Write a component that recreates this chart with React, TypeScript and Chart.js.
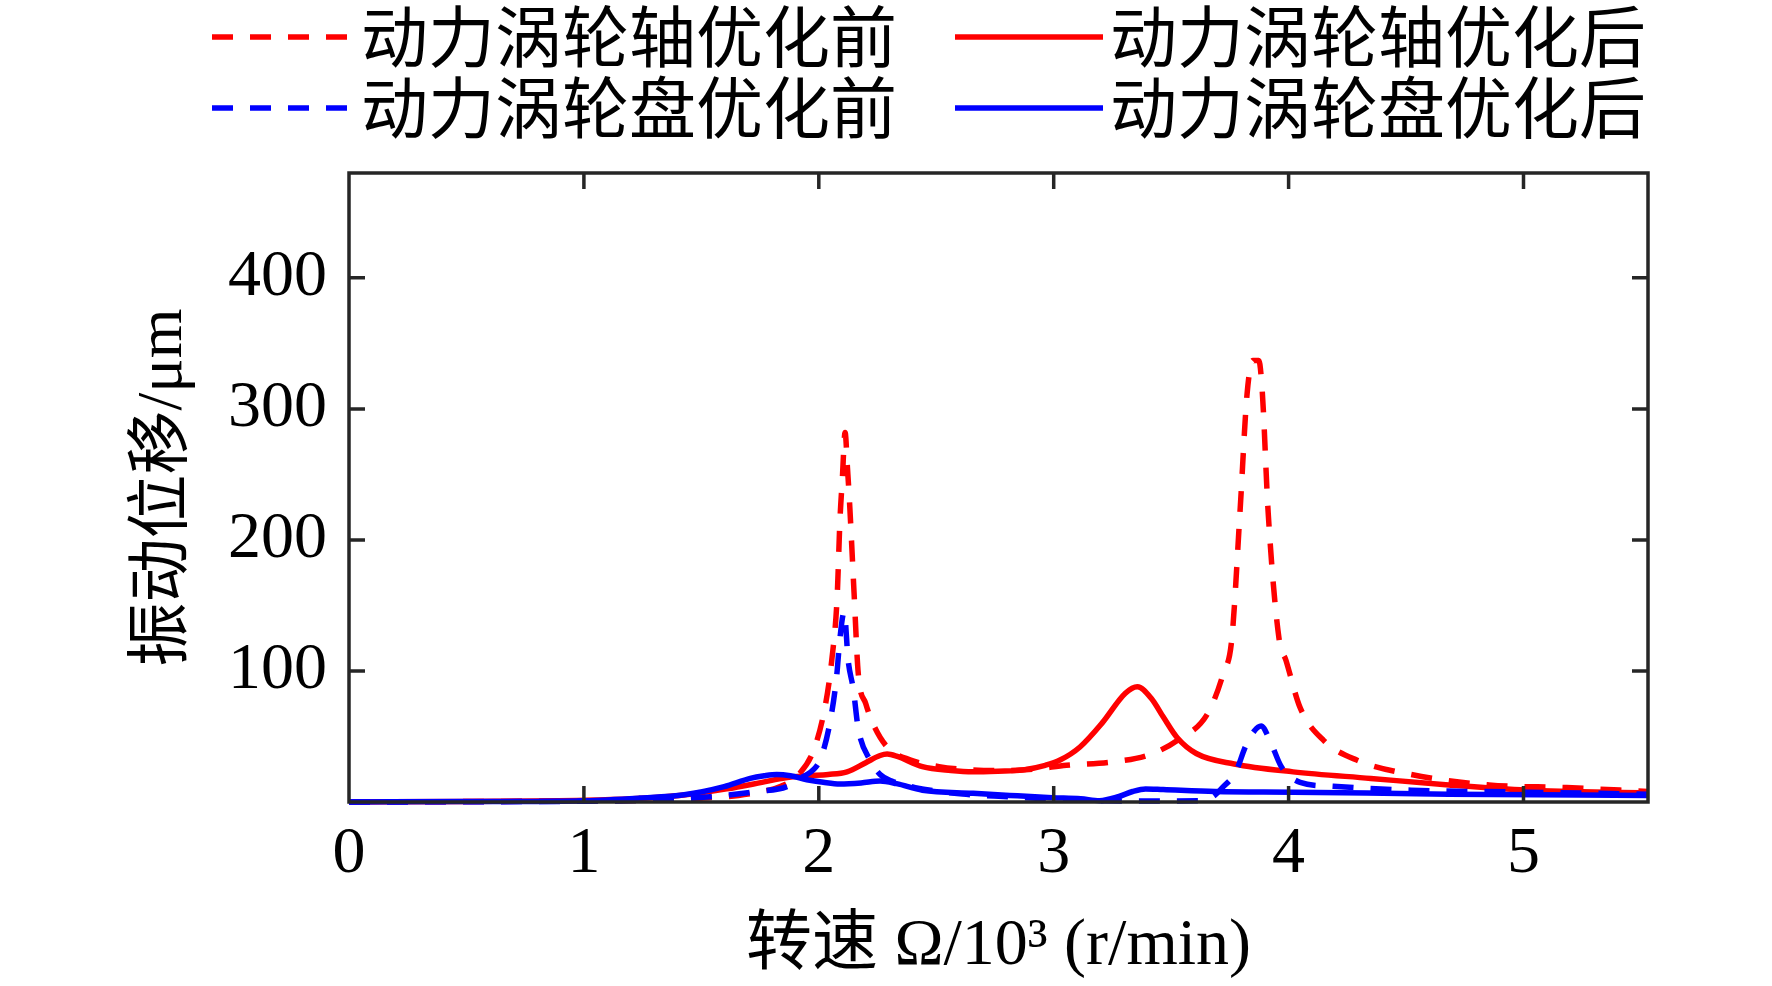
import React, { useEffect, useRef } from 'react';
import { Chart, registerables } from 'chart.js';

Chart.register(...registerables);

// speed (10^3 r/min) and displacement (um)
const shaftBeforeX = [0, 0.502, 1.005, 1.306, 1.507, 1.658, 1.758, 1.839, 1.909, 1.979, 2.029, 2.055, 2.078, 2.09, 2.1, 2.112, 2.122, 2.132, 2.15, 2.168, 2.2, 2.23, 2.291, 2.391, 2.512, 2.612, 2.763, 2.914, 3.054, 3.245, 3.406, 3.526, 3.657, 3.722, 3.758, 3.793, 3.823, 3.848, 3.873, 3.888, 3.913, 3.959, 3.989, 4.049, 4.149, 4.29, 4.521, 4.853, 5.184, 5.53];
const shaftBeforeY = [0, 0.3, 0.8, 1.5, 3, 5, 8, 12, 20, 40, 75, 108, 156, 215, 246, 282, 255, 225, 160, 98, 75, 60, 42, 32, 27, 25, 24, 25, 28, 30.5, 36, 47, 68, 98, 124, 221, 311, 337, 337, 313, 221, 125, 108, 72, 47, 32, 21, 13, 11, 8];

const shaftAfterX = [0, 0.502, 1.005, 1.206, 1.407, 1.608, 1.758, 1.859, 1.949, 2.04, 2.12, 2.2, 2.261, 2.291, 2.331, 2.441, 2.562, 2.657, 2.763, 2.87, 2.964, 3.027, 3.112, 3.205, 3.305, 3.356, 3.416, 3.466, 3.526, 3.607, 3.768, 4.019, 4.35, 4.682, 5.013, 5.53];
const shaftAfterY = [0, 0.4, 1.3, 2.5, 5, 10, 15, 18.5, 20, 21, 23, 30, 35.5, 36.6, 35, 27, 24, 23, 23.5, 24.5, 28, 32, 42, 60, 83, 88, 79, 65, 49, 37, 29, 23, 18, 13, 9, 7];

const diskBeforeX = [0, 0.502, 1.005, 1.306, 1.537, 1.738, 1.864, 1.909, 1.989, 2.012, 2.05, 2.076, 2.09, 2.108, 2.125, 2.147, 2.168, 2.218, 2.261, 2.311, 2.411, 2.612, 2.813, 3.014, 3.215, 3.416, 3.617, 3.677, 3.722, 3.773, 3.818, 3.853, 3.883, 3.918, 3.969, 4.049, 4.19, 4.521, 5.024, 5.53];
const diskBeforeY = [0, 0.2, 0.6, 1.5, 4, 8, 11.7, 17, 27, 35, 63, 96, 125, 145, 108, 86, 56, 32, 21, 16, 11, 6, 4, 2, 1, 0.7, 1, 4, 11.7, 22, 43, 54, 58, 48, 27, 15, 12, 9, 7.5, 6];

const diskAfterX = [0, 0.502, 1.005, 1.236, 1.427, 1.597, 1.708, 1.768, 1.821, 1.879, 1.949, 2.019, 2.09, 2.18, 2.261, 2.331, 2.441, 2.657, 2.813, 2.994, 3.115, 3.195, 3.275, 3.336, 3.391, 3.466, 3.687, 4.019, 4.682, 5.53];
const diskAfterY = [0, 0.3, 1, 3, 5.5, 11.7, 18, 20, 21, 20, 17, 15, 13.7, 14.5, 16, 14, 9, 6.6, 5, 3.3, 2.5, 1, 4, 8, 10, 9.5, 8, 7.5, 6, 5];

const legendLabels = ['动力涡轮轴优化前', '动力涡轮轴优化后', '动力涡轮盘优化前', '动力涡轮盘优化后'];
const xTitle = '转速 Ω/10³ (r/min)';
const yTitle = '振动位移/μm';

const serif = '"Liberation Serif", "Times New Roman", "Noto Sans CJK SC", serif';
const axisColor = '#262626';

const zip = (xs: number[], ys: number[]) => xs.map((x, i) => ({ x, y: ys[i] }));

// inward ticks on all four sides plus the box
const boxPlugin = {
  id: 'box',
  afterDatasetsDraw(chart: any) {
    const { ctx, chartArea: a, scales } = chart;
    const len = 16;
    ctx.save();
    ctx.strokeStyle = axisColor;
    ctx.lineWidth = 3.5;
    ctx.setLineDash([]);
    ctx.beginPath();
    scales.x.ticks.forEach((t: any) => {
      if (t.value <= 0) return;
      const px = scales.x.getPixelForValue(t.value);
      ctx.moveTo(px, a.bottom);
      ctx.lineTo(px, a.bottom - len);
      ctx.moveTo(px, a.top);
      ctx.lineTo(px, a.top + len);
    });
    scales.y.ticks.forEach((t: any) => {
      if (t.value <= 0) return;
      const py = scales.y.getPixelForValue(t.value);
      ctx.moveTo(a.left, py);
      ctx.lineTo(a.left + len, py);
      ctx.moveTo(a.right, py);
      ctx.lineTo(a.right - len, py);
    });
    ctx.stroke();
    ctx.strokeRect(a.left, a.top, a.right - a.left, a.bottom - a.top);
    ctx.restore();
  },
};

// two-column legend above the axes
const legendPlugin = {
  id: 'twoColLegend',
  afterDraw(chart: any) {
    const { ctx } = chart;
    const colX = [212, 955];
    const rowY = [37, 108];
    const lineLen = [142, 148];
    ctx.save();
    chart.data.datasets.forEach((ds: any, i: number) => {
      const col = i % 2;
      const x = colX[col];
      const y = rowY[Math.floor(i / 2)];
      ctx.strokeStyle = ds.borderColor;
      ctx.lineWidth = ds.borderWidth;
      ctx.setLineDash(ds.borderDash || []);
      ctx.beginPath();
      ctx.moveTo(x, y);
      ctx.lineTo(x + lineLen[col], y);
      ctx.stroke();
      ctx.setLineDash([]);
      ctx.fillStyle = '#000';
      ctx.font = '67px "Noto Sans CJK SC", sans-serif';
      ctx.textBaseline = 'middle';
      ctx.textAlign = 'left';
      ctx.fillText(ds.label, x + lineLen[col] + 7, y);
    });
    ctx.restore();
  },
};

const App = () => {
  const canvasRef = useRef<HTMLCanvasElement>(null);

  useEffect(() => {
    const ctx = canvasRef.current!.getContext('2d')!;
    const common = { borderWidth: 5.5, pointRadius: 0, cubicInterpolationMode: 'monotone', clip: false, fill: false };

    const chart = new Chart(ctx, {
      type: 'line',
      data: {
        datasets: [
          { ...common, label: legendLabels[0], data: zip(shaftBeforeX, shaftBeforeY), borderColor: '#ff0000', borderDash: [21, 17], order: 3 },
          { ...common, label: legendLabels[1], data: zip(shaftAfterX, shaftAfterY), borderColor: '#ff0000', order: 2 },
          { ...common, label: legendLabels[2], data: zip(diskBeforeX, diskBeforeY), borderColor: '#0000ff', borderDash: [21, 17], order: 1 },
          { ...common, label: legendLabels[3], data: zip(diskAfterX, diskAfterY), borderColor: '#0000ff', order: 0 },
        ] as any,
      },
      options: {
        animation: false,
        responsive: true,
        maintainAspectRatio: false,
        layout: { padding: { top: 173, right: 124, left: 0, bottom: 0 } },
        plugins: {
          legend: { display: false },
          tooltip: { enabled: false },
        },
        scales: {
          x: {
            type: 'linear',
            min: 0,
            max: 5.53,
            grid: { display: false },
            border: { display: false },
            ticks: {
              stepSize: 1,
              includeBounds: false,
              maxRotation: 0,
              padding: 5,
              color: '#000',
              font: { family: serif, size: 66 },
              callback: (v: any) => String(v),
            },
            title: {
              display: true,
              text: xTitle,
              color: '#000',
              font: { family: serif, size: 66 },
              padding: { top: 0, bottom: 0 },
            },
            afterFit: (scale: any) => {
              scale.height = 184;
            },
          },
          y: {
            type: 'linear',
            min: 0,
            max: 480,
            grid: { display: false },
            border: { display: false },
            ticks: {
              stepSize: 100,
              includeBounds: false,
              padding: 14,
              color: '#000',
              font: { family: serif, size: 66 },
              callback: (v: any) => (v === 0 ? '' : String(v)),
            },
            title: {
              display: true,
              text: yTitle,
              color: '#000',
              font: { family: serif, size: 64 },
              padding: { top: 126, bottom: 0 },
            },
            afterFit: (scale: any) => {
              scale.width = 349;
            },
          },
        },
      } as any,
      plugins: [boxPlugin, legendPlugin],
    });

    return () => {
      chart.destroy();
    };
  }, []);

  return (
    <div style={{ position: 'fixed', left: 0, top: 0, width: 1772, height: 986, background: '#fff' }}>
      <canvas ref={canvasRef} />
    </div>
  );
};

export default App;
